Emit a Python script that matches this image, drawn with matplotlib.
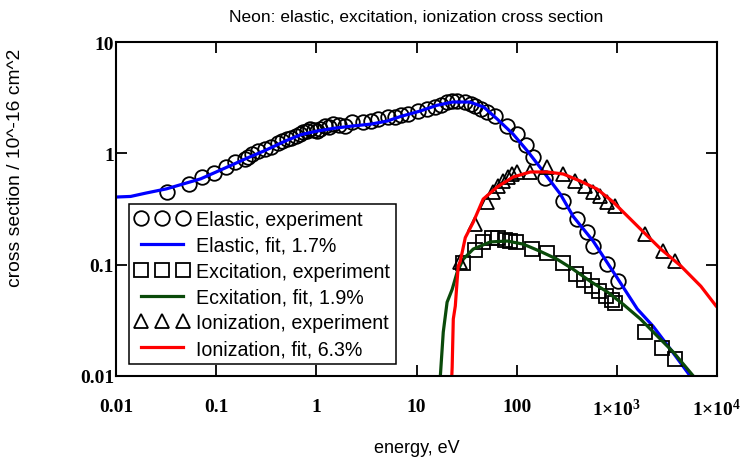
import matplotlib as mpl
mpl.use('Agg')
import matplotlib.pyplot as plt

# elastic, experiment
elastic_exp_E = [0.032, 0.054, 0.072, 0.095, 0.126, 0.155, 0.195, 0.21, 0.23, 0.26, 0.31, 0.35,
                 0.41, 0.45, 0.51, 0.56, 0.62, 0.68, 0.74, 0.8, 0.87, 0.95, 1.02, 1.1, 1.23,
                 1.35, 1.47, 1.7, 1.94, 2.28, 2.94, 3.5, 4.14, 5.2, 6.1, 7.0, 8.3, 10.4, 12.8,
                 15.4, 17.5, 20.3, 22.5, 25.5, 30.7, 35, 38.6, 44, 50.8, 61, 80.5, 101, 125,
                 147, 193, 292, 404, 508, 583, 805, 1038]
elastic_exp_s = [0.45, 0.53, 0.61, 0.67, 0.75, 0.84, 0.89, 0.93, 0.98, 1.05, 1.09, 1.15,
                 1.24, 1.28, 1.34, 1.38, 1.43, 1.5, 1.55, 1.58, 1.65, 1.62, 1.6, 1.65, 1.76,
                 1.72, 1.83, 1.8, 1.76, 1.91, 1.91, 1.95, 2.03, 2.12, 2.12, 2.2, 2.25, 2.4, 2.5,
                 2.61, 2.7, 2.89, 2.93, 2.95, 2.89, 2.8, 2.66, 2.5, 2.35, 2.16, 1.76, 1.49, 1.2,
                 0.93, 0.6, 0.37, 0.257, 0.196, 0.147, 0.101, 0.071]

# elastic, fit
elastic_fit_E = [0.01, 0.014, 0.02, 0.032, 0.05, 0.07, 0.1, 0.15, 0.2, 0.3, 0.5, 0.7, 1.0, 1.5,
                 2.3, 3.5, 5.1, 6.9, 10.9, 16, 23, 34, 47, 64, 92, 128, 171, 273, 368, 580,
                 1000, 1600, 2300, 3500, 5400, 7000]
elastic_fit_s = [0.405, 0.41, 0.44, 0.48, 0.54, 0.59, 0.68, 0.8, 0.9, 1.05, 1.3, 1.47, 1.58, 1.68,
                 1.76, 1.83, 1.95, 2.14, 2.4, 2.7, 2.89, 2.89, 2.6, 2.03, 1.49, 1.05, 0.75, 0.43,
                 0.27, 0.163, 0.077, 0.04, 0.028, 0.017, 0.01, 0.0075]

# excitation, experiment
excit_exp_E = [29.3, 38.6, 46.3, 57, 65.5, 77, 86, 99, 143, 202, 292, 394, 474, 570, 670, 787,
               903, 966, 1930, 2850, 3850]
excit_exp_s = [0.103, 0.135, 0.161, 0.175, 0.173, 0.166, 0.163, 0.16, 0.138, 0.127, 0.103,
               0.082, 0.073, 0.064, 0.058, 0.052, 0.048, 0.045, 0.0248, 0.018, 0.0142]

# excitation, fit
excit_fit_E = [16.6, 17.0, 17.3, 18.5, 20.2, 22.7, 25.5, 29.3, 36.8, 54.4, 80.5, 116, 171, 253,
               366, 541, 801, 1160, 1720, 2540, 3660, 5800, 7000]
excit_fit_s = [0.001, 0.006, 0.01, 0.0248, 0.046, 0.06, 0.086, 0.112, 0.138, 0.16, 0.163, 0.153,
               0.132, 0.112, 0.091, 0.071, 0.057, 0.044, 0.0325, 0.0228, 0.0164, 0.01, 0.0085]

# ionization, experiment
ion_exp_E = [27.4, 38.6, 50.8, 58.4, 65.5, 73.5, 82.5, 90.4, 101, 137, 202, 292, 385, 485, 583,
             685, 804, 966, 1930, 2920, 3850]
ion_exp_s = [0.105, 0.232, 0.365, 0.449, 0.508, 0.564, 0.613, 0.652, 0.68, 0.68, 0.753, 0.652,
             0.564, 0.508, 0.449, 0.413, 0.365, 0.337, 0.188, 0.132, 0.108]

# ionization, fit
ion_fit_E = [21.6, 22.0, 22.7, 23.3, 24.4, 25.5, 26.1, 27.4, 30.7, 36.8, 46.3, 63.9, 92.2, 137,
             202, 292, 430, 635, 920, 1270, 1720, 2750, 4370, 6900, 9800, 12000]
ion_fit_s = [0.001, 0.006, 0.012, 0.0325, 0.0425, 0.074, 0.097, 0.108, 0.175, 0.24, 0.388, 0.498,
             0.613, 0.68, 0.68, 0.652, 0.564, 0.478, 0.365, 0.274, 0.209, 0.138, 0.097, 0.064,
             0.0425, 0.035]

x_ticks = [0.01, 0.1, 1, 10, 100, 1000, 10000]
x_tick_labels = ['0.01', '0.1', '1', '10', '100', '1\u00d710$^{3}$', '1\u00d710$^{4}$']
y_ticks = [0.01, 0.1, 1, 10]
y_tick_labels = ['0.01', '0.1', '1', '10']


def neon_plot(outpath, fs = 12.5):

    plt.rcParams['font.family'] = ['Liberation Sans', 'DejaVu Sans']
    plt.rcParams['mathtext.fontset'] = 'custom'
    plt.rcParams['mathtext.rm'] = 'Liberation Serif:bold'
    plt.rcParams['mathtext.it'] = 'Liberation Serif:bold'
    plt.rcParams['mathtext.bf'] = 'Liberation Serif:bold'

    fig = plt.figure(figsize = (7.41, 4.64), dpi = 100)
    ax = fig.add_axes([116 / 741, 1 - 377 / 464, 601 / 741, 334 / 464])

    mk = dict(ls = "none", mfc = "none", mec = "black", mew = 1.3)
    lw = 2.3

    ax.plot(elastic_exp_E, elastic_exp_s, marker = "o", ms = 10.5, label = "Elastic, experiment", **mk)
    ax.plot(elastic_fit_E, elastic_fit_s, color = "#0000ff", lw = lw, label = "Elastic, fit, 1.7%")
    ax.plot(excit_exp_E, excit_exp_s, marker = "s", ms = 9.5, label = "Excitation, experiment", **mk)
    ax.plot(excit_fit_E, excit_fit_s, color = "#0a4a0a", lw = lw, label = "Ecxitation, fit, 1.9%")
    ax.plot(ion_exp_E, ion_exp_s, marker = "^", ms = 10.5, label = "Ionization, experiment", **mk)
    ax.plot(ion_fit_E, ion_fit_s, color = "#ff0000", lw = lw, label = "Ionization, fit, 6.3%")

    ax.set_xscale("log")
    ax.set_yscale("log")
    ax.set_xlim(0.01, 10000)
    ax.set_ylim(0.01, 10)
    ax.minorticks_off()

    tick_font = dict(family = "Liberation Serif", weight = "bold", size = 14)
    ax.set_xticks(x_ticks)
    ax.set_xticklabels(x_tick_labels, fontdict = tick_font)
    ax.set_yticks(y_ticks)
    ax.set_yticklabels(y_tick_labels, fontdict = tick_font)
    ax.tick_params(axis = "x", direction = "in", which = "both", bottom = True, top = True,
                   length = 8, width = 1.3, pad = 16)
    ax.tick_params(axis = "y", direction = "in", which = "both", left = True, right = True,
                   length = 8, width = 1.3, pad = 1.5)
    for sp in ax.spines.values():
        sp.set_linewidth(1.5)

    leg = ax.legend(loc = "lower left", bbox_to_anchor = (0.0216, 0.036), borderaxespad = 0,
                    numpoints = 3, fontsize = 14.1, frameon = True, fancybox = False,
                    handlelength = 2.75, handletextpad = 0.38, labelspacing = 0.35,
                    borderpad = 0.3)
    leg.get_frame().set_edgecolor("black")
    leg.get_frame().set_linewidth(1.1)
    leg.get_frame().set_alpha(1)

    fig.text(416.5 / 741, 1 - 17 / 464, "Neon: elastic, excitation, ionization cross section",
             ha = "center", va = "center", fontsize = fs)
    fig.text(416.5 / 741, 1 - 449 / 464, "energy, eV", ha = "center", va = "center", fontsize = 13)
    fig.text(16 / 741, 1 - 168 / 464, "cross section / 10^-16 cm^2", rotation = 90,
             ha = "center", va = "center", fontsize = 13.9)

    fig.savefig(outpath, dpi = 100)
    plt.close()


if __name__ == "__main__":
    neon_plot("out.png")
